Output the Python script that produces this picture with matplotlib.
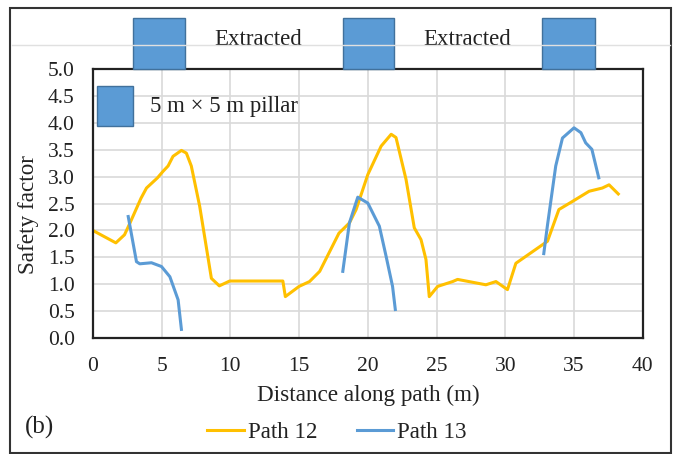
import matplotlib.pyplot as plt
from matplotlib.patches import Rectangle

plt.rcParams['font.family'] = ['Liberation Serif', 'DejaVu Serif']

# Path 12 (yellow line)
x12 = [0, 1.67, 2.3, 2.7, 3.5, 3.9, 4.7, 5.1, 5.47, 5.83, 6.44, 6.8, 7.16, 7.77,
       8.62, 9.2, 9.95, 13.82, 14.0, 15.0, 15.76, 16.5, 17.9, 18.66, 19.15, 20.0,
       20.97, 21.7, 22.05, 22.78, 23.38, 23.87, 24.23, 24.47, 25.08, 26.17, 26.53,
       28.59, 29.32, 30.16, 30.77, 31.5, 33.07, 33.9, 34.88, 36.1, 37.06, 37.55, 38.22]
y12 = [2.0, 1.77, 1.92, 2.14, 2.6, 2.79, 2.98, 3.1, 3.2, 3.38, 3.49, 3.44, 3.2, 2.45,
       1.11, 0.97, 1.06, 1.06, 0.77, 0.96, 1.05, 1.24, 1.95, 2.14, 2.39, 3.04,
       3.57, 3.79, 3.73, 2.95, 2.05, 1.83, 1.46, 0.77, 0.96, 1.05, 1.09,
       0.99, 1.05, 0.9, 1.39, 1.52, 1.8, 2.39, 2.54, 2.73, 2.79, 2.85, 2.68]

# Path 13 (blue line), three separate pieces
x13a = [2.57, 3.17, 3.41, 4.26, 4.99, 5.6, 6.2, 6.44]
y13a = [2.26, 1.42, 1.38, 1.40, 1.33, 1.14, 0.71, 0.16]
x13b = [18.18, 18.66, 19.27, 20.0, 20.84, 21.33, 21.8, 22.0]
y13b = [1.24, 2.14, 2.62, 2.51, 2.08, 1.52, 0.96, 0.53]
x13c = [32.8, 33.07, 33.67, 34.16, 35.0, 35.5, 35.85, 36.3, 36.8]
y13c = [1.57, 2.1, 3.2, 3.72, 3.91, 3.82, 3.63, 3.51, 2.98]

# pillar squares drawn above the plot (x start, x end)
pillars = [(2.9, 6.7), (18.2, 21.9), (32.7, 36.5)]
extracted_x = [12.0, 27.2]

yellow = '#FFC000'
blue = '#5B9BD5'
txt = '#222222'

fig = plt.figure(figsize=(6.78, 4.54), dpi=100)
ax = fig.add_axes([0.137, 0.2555, 0.811, 0.592])

ax.plot(x12, y12, color=yellow, lw=2.2, label='Path 12')
ax.plot(x13a, y13a, color=blue, lw=2.2, label='Path 13')
ax.plot(x13b, y13b, color=blue, lw=2.2)
ax.plot(x13c, y13c, color=blue, lw=2.2)

ax.set_xlim(0, 40)
ax.set_ylim(0, 5)
ax.set_xticks(range(0, 41, 5))
ax.set_yticks([i * 0.5 for i in range(11)])
ax.set_yticklabels(['%.1f' % (i * 0.5) for i in range(11)])
ax.grid(True, color='#d9d9d9', lw=1.2)
ax.set_axisbelow(True)
ax.tick_params(length=0, labelsize=15.5, labelcolor=txt)
ax.tick_params(axis='y', pad=13)
ax.tick_params(axis='x', pad=14)
for s in ax.spines.values():
    s.set_color('#222222')
    s.set_linewidth(1.6)

ax.set_xlabel('Distance along path (m)', fontsize=16.7, color=txt, labelpad=6)
ax.set_ylabel('Safety factor', fontsize=16.7, color=txt)
ax.yaxis.set_label_coords(-0.098, 0.46)

# pillar blocks
for x0, x1 in pillars:
    ax.add_patch(Rectangle((x0, 5.0), x1 - x0, 0.96, facecolor=blue,
                           edgecolor='#41719C', lw=1, clip_on=False, zorder=5))
for xe in extracted_x:
    ax.text(xe, 5.55, 'Extracted', fontsize=16.5, ha='center', va='center', color=txt)

# pillar key inside the plot
ax.add_patch(Rectangle((0.3, 3.94), 2.6, 0.74, facecolor=blue,
                       edgecolor='#41719C', lw=1, zorder=5))
ax.text(4.15, 4.3, '5 m \u00d7 5 m pillar', fontsize=16.4, va='center', color=txt)

leg = fig.legend(loc='center', bbox_to_anchor=(0.497, 0.048), ncol=2, frameon=False,
                 fontsize=16.6, handlelength=1.6, handletextpad=0.17, columnspacing=1.7)
for t in leg.get_texts():
    t.set_color(txt)

fig.text(0.037, 0.058, '(b)', fontsize=18, color=txt, va='center')

# outer frame and faint line near top
fig.add_artist(Rectangle((0.015, 0.003), 0.975, 0.98, transform=fig.transFigure,
                         fill=False, edgecolor='#333333', lw=1.5))
fig.add_artist(plt.Line2D([0.017, 0.988], [0.901, 0.901], transform=fig.transFigure,
                          color='#e0e0e0', lw=1))

fig.savefig('out.png', dpi=100)
